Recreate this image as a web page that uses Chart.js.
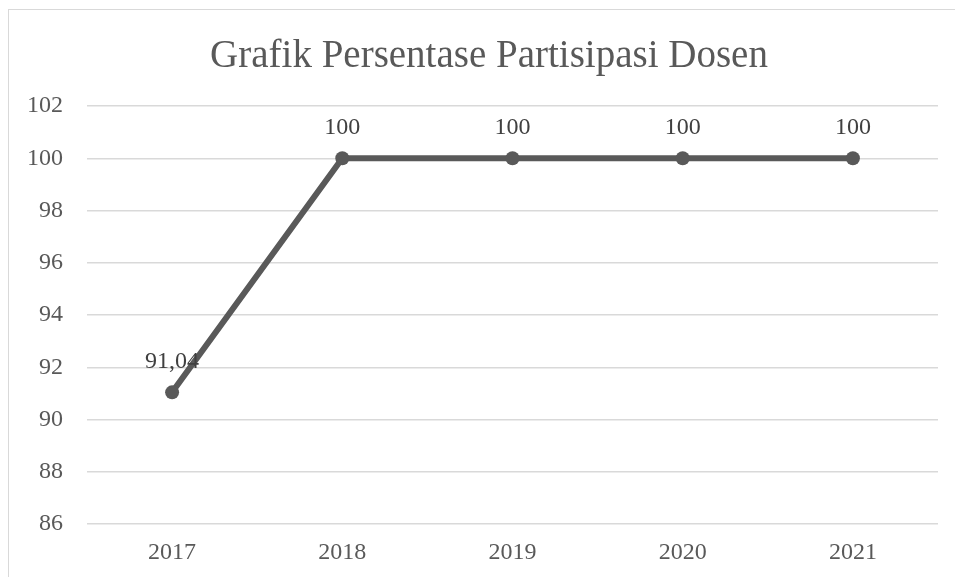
<!DOCTYPE html>
<html>
<head>
<meta charset="utf-8">
<script src="https://cdn.jsdelivr.net/npm/chart.js@4"></script>
<style>
  html, body { margin: 0; padding: 0; background: #fff; }
  #wrap { width: 955px; height: 577px; position: relative; }
</style>
</head>
<body>
<div id="wrap"><canvas id="myChart"></canvas></div>
<script>
  const labels = ['2017', '2018', '2019', '2020', '2021'];
  const persentase = [91.04, 100, 100, 100, 100];
  const labelTeks = ['91,04', '100', '100', '100', '100'];
  const judul = 'Grafik Persentase Partisipasi Dosen';

  // frame + title, like the excel chart box
  const bingkai = {
    id: 'bingkai',
    beforeDraw(chart, args, options) {
      const { ctx } = chart;
      ctx.save();
      ctx.strokeStyle = '#d9d9d9';
      ctx.lineWidth = 1;
      ctx.strokeRect(8.5, 9.5, 980, 600);
      ctx.font = '39px "Liberation Serif"';
      ctx.fillStyle = '#595959';
      ctx.textAlign = 'center';
      ctx.textBaseline = 'middle';
      ctx.fillText(judul, 489, 57);
      ctx.restore();
    }
  };

  // value labels above the points
  const labelNilai = {
    id: 'labelNilai',
    afterDatasetsDraw(chart, args, options) {
      const { ctx } = chart;
      const meta = chart.getDatasetMeta(0);
      ctx.save();
      ctx.font = '24px "Liberation Serif"';
      ctx.fillStyle = '#404040';
      ctx.textAlign = 'center';
      ctx.textBaseline = 'middle';
      meta.data.forEach((pt, i) => {
        ctx.fillText(labelTeks[i], pt.x, pt.y - 31);
      });
      ctx.restore();
    }
  };

  const config = {
    type: 'line',
    data: {
      labels: labels,
      datasets: [{
        label: 'Persentase',
        data: persentase,
        borderColor: '#595959',
        backgroundColor: '#595959',
        borderWidth: 6,
        pointRadius: 7,
        pointHoverRadius: 7,
        pointBackgroundColor: '#595959',
        pointBorderWidth: 0,
        tension: 0
      }]
    },
    options: {
      responsive: false,
      animation: false,
      layout: { padding: { left: 8, top: 106, right: 17, bottom: 0 } },
      plugins: {
        legend: { display: false },
        title: { display: false },
        tooltip: { enabled: false }
      },
      scales: {
        x: {
          offset: true,
          grid: { display: false },
          border: { display: false },
          ticks: {
            color: '#595959',
            padding: 6,
            font: { family: 'Liberation Serif', size: 24 }
          },
          afterFit(scale) { scale.height = 53; }
        },
        y: {
          min: 86,
          max: 102,
          border: { display: false },
          grid: { color: '#d9d9d9', lineWidth: 1.5, drawTicks: false },
          ticks: {
            stepSize: 2,
            color: '#595959',
            padding: 24,
            font: { family: 'Liberation Serif', size: 24 }
          },
          afterFit(scale) { scale.width = 79; }
        }
      }
    },
    plugins: [bingkai, labelNilai]
  };

  const canvas = document.getElementById('myChart');
  canvas.width = 955;
  canvas.height = 577;
  const myChart = new Chart(canvas, config);
</script>
</body>
</html>
